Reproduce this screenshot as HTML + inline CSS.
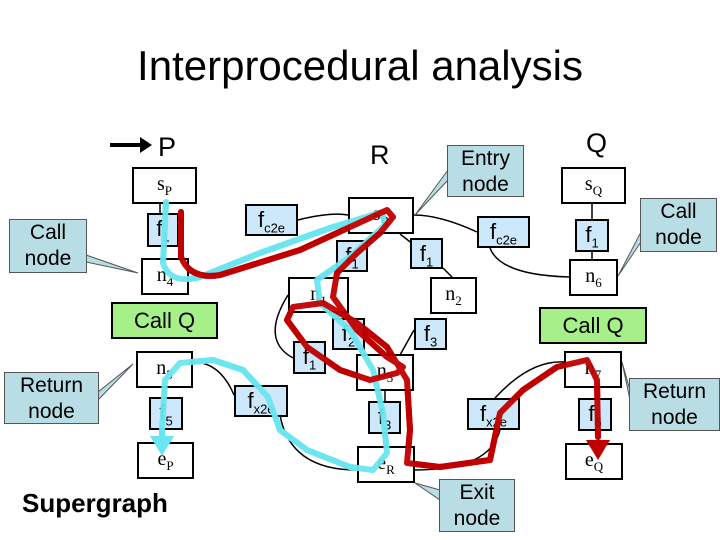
<!DOCTYPE html>
<html><head><meta charset="utf-8"><style>
body{margin:0;width:720px;height:540px;background:#fff;position:relative;overflow:hidden;font-family:"Liberation Sans",sans-serif}
.b{position:absolute;border:2px solid #000;background:#fff;box-sizing:border-box;text-align:center;font-family:"Liberation Serif",serif;font-size:20px;line-height:30px}
.f{position:absolute;border:2px solid #000;background:#cce8fa;box-sizing:border-box;text-align:center;font-size:22px;line-height:28px}
.c{position:absolute;border:1px solid #555;background:#b8dde4;box-sizing:border-box;text-align:center;font-size:21px;line-height:26px}
.g{position:absolute;border:2px solid #000;background:#a6f08a;box-sizing:border-box;text-align:center;font-size:22px;line-height:33px}
sub{font-size:13px}
.t{position:absolute;font-size:27px}
</style></head><body>
<div style="position:absolute;left:0;width:720px;top:42px;text-align:center;font-size:42px">Interprocedural analysis</div>
<div class="t" style="left:158px;top:132px">P</div>
<div class="t" style="left:370px;top:140px">R</div>
<div class="t" style="left:586px;top:128px">Q</div>
<div style="position:absolute;left:22px;top:488px;font-size:26px;font-weight:bold">Supergraph</div>

<svg width="720" height="540" style="position:absolute;left:0;top:0">
<polygon points="110,143 140,143 140,137 152,145 140,153 140,147 110,147" fill="#000"/>
<g stroke="#000" stroke-width="1.5" fill="none">
<path d="M298,220 Q330,212 348,215"/><path d="M477,232 Q440,215 414,215"/>
<path d="M400,234 L418,248"/><path d="M443,268 L452,277"/>
<path d="M592,204 L592,219"/><path d="M592,252 L592,259"/>
<path d="M490,248 Q500,275 569,277"/>
<path d="M293,358 Q260,340 288,295"/><path d="M414,330 L400,355"/>
<path d="M385,391 L385,401"/><path d="M385,434 L385,446"/>
<path d="M234,395 Q220,362 193,362"/><path d="M280,415 Q290,470 357,470"/>
<path d="M500,430 Q490,470 415,470"/><path d="M495,398 Q530,360 564,362"/>
<path d="M160,204 L160,213"/><path d="M160,430 L160,442"/>
</g>
<g fill="#b8dde4" stroke="#555" stroke-width="1">
<polygon points="86,255 138,273 86,262"/><polygon points="98,392 133,364 98,400"/>
<polygon points="448,170 415,215 448,180"/><polygon points="440,490 415,483 440,500"/>
<polygon points="641,232 618,276 641,242"/><polygon points="630,390 622,362 630,400"/>
</g>
<g fill="none" stroke-linecap="round" stroke-linejoin="round" stroke-width="6">
<path stroke="#6be6f0" d="M166,202 L163,263 Q170,285 200,277 L260,253 L330,228 L382,212 L385,225 L350,257 L317,280 L320,303 L350,330 L373,370 L383,413 L387,453 L373,470 L350,467 L307,450 L280,430 L268,397 L243,370 L213,360 L180,363 L165,380 L162,430 L162,440"/>
<path stroke="#c00000" d="M181,212 L181,257 Q190,280 220,275 L300,250 L387,210 L393,217 L380,233 L357,253 L337,273 L333,297 L357,330 L387,357 L403,367 L397,373 L370,380 L340,370 L307,347 L287,320 L293,307 L323,303 L357,323 L387,347 L407,380 L410,430 L407,463 L440,467 L490,460 L500,413 L523,390 L557,367 L587,360 L597,380 L598,437"/>
</g>
<polygon points="150,436 174,436 162,456" fill="#6be6f0"/>
<polygon points="586,440 610,440 598,460" fill="#c00000"/>
</svg>

<div class="c" style="left:9px;top:219px;width:78px;height:54px">Call<br>node</div>
<div class="c" style="left:4px;top:372px;width:95px;height:52px">Return<br>node</div>
<div class="c" style="left:447px;top:145px;width:77px;height:52px">Entry<br>node</div>
<div class="c" style="left:439px;top:479px;width:76px;height:53px">Exit<br>node</div>
<div class="c" style="left:640px;top:198px;width:77px;height:54px">Call<br>node</div>
<div class="c" style="left:629px;top:378px;width:91px;height:53px">Return<br>node</div>

<div class="b" style="left:132px;top:167px;width:65px;height:37px">s<sub>P</sub></div>
<div class="f" style="left:147px;top:213px;width:32px;height:34px">f<sub>1</sub></div>
<div class="b" style="left:141px;top:258px;width:48px;height:37px">n<sub>4</sub></div>
<div class="g" style="left:111px;top:302px;width:107px;height:37px">Call Q</div>
<div class="b" style="left:136px;top:351px;width:57px;height:37px">n<sub>5</sub></div>
<div class="f" style="left:149px;top:397px;width:34px;height:33px">f<sub>5</sub></div>
<div class="b" style="left:137px;top:442px;width:57px;height:37px">e<sub>P</sub></div>
<div class="f" style="left:245px;top:204px;width:53px;height:32px">f<sub>c2e</sub></div>
<div class="f" style="left:234px;top:385px;width:54px;height:32px">f<sub>x2e</sub></div>

<div class="b" style="left:348px;top:197px;width:66px;height:37px">s<sub>R</sub></div>
<div class="f" style="left:336px;top:240px;width:32px;height:32px">f<sub>1</sub></div>
<div class="f" style="left:410px;top:238px;width:33px;height:31px">f<sub>1</sub></div>
<div class="f" style="left:477px;top:216px;width:53px;height:32px">f<sub>c2e</sub></div>
<div class="b" style="left:288px;top:277px;width:61px;height:36px">n<sub>1</sub></div>
<div class="b" style="left:430px;top:277px;width:47px;height:37px">n<sub>2</sub></div>
<div class="f" style="left:332px;top:318px;width:33px;height:32px">f<sub>2</sub></div>
<div class="f" style="left:414px;top:318px;width:33px;height:32px">f<sub>3</sub></div>
<div class="f" style="left:293px;top:341px;width:33px;height:33px">f<sub>1</sub></div>
<div class="b" style="left:356px;top:354px;width:58px;height:37px">n<sub>3</sub></div>
<div class="f" style="left:368px;top:401px;width:33px;height:33px">f<sub>3</sub></div>
<div class="f" style="left:467px;top:398px;width:53px;height:32px">f<sub>x2e</sub></div>
<div class="b" style="left:357px;top:446px;width:58px;height:37px">e<sub>R</sub></div>

<div class="b" style="left:561px;top:167px;width:65px;height:37px">s<sub>Q</sub></div>
<div class="f" style="left:575px;top:219px;width:34px;height:33px">f<sub>1</sub></div>
<div class="b" style="left:569px;top:259px;width:49px;height:37px">n<sub>6</sub></div>
<div class="g" style="left:539px;top:307px;width:108px;height:37px">Call Q</div>
<div class="b" style="left:564px;top:351px;width:58px;height:37px">n<sub>7</sub></div>
<div class="f" style="left:578px;top:398px;width:34px;height:33px">f<sub>6</sub></div>
<div class="b" style="left:565px;top:443px;width:58px;height:37px">e<sub>Q</sub></div>

<svg width="720" height="540" style="position:absolute;left:0;top:0;pointer-events:none">
<g fill="none" stroke-linecap="round" stroke-linejoin="round" stroke-width="6" opacity="0.95">
<path stroke="#6be6f0" d="M166,202 L163,263 Q170,285 200,277 L260,253 L330,228 L382,212 L385,225 L350,257 L317,280 L320,303 L350,330 L373,370 L383,413 L387,453 L373,470 L350,467 L307,450 L280,430 L268,397 L243,370 L213,360 L180,363 L165,380 L162,430 L162,440"/>
<path stroke="#c00000" d="M181,212 L181,257 Q190,280 220,275 L300,250 L387,210 L393,217 L380,233 L357,253 L337,273 L333,297 L357,330 L387,357 L403,367 L397,373 L370,380 L340,370 L307,347 L287,320 L293,307 L323,303 L357,323 L387,347 L407,380 L410,430 L407,463 L440,467 L490,460 L500,413 L523,390 L557,367 L587,360 L597,380 L598,437"/>
</g>
<polygon points="150,436 174,436 162,456" fill="#6be6f0"/>
<polygon points="586,440 610,440 598,460" fill="#c00000"/>
</svg>
</body></html>
